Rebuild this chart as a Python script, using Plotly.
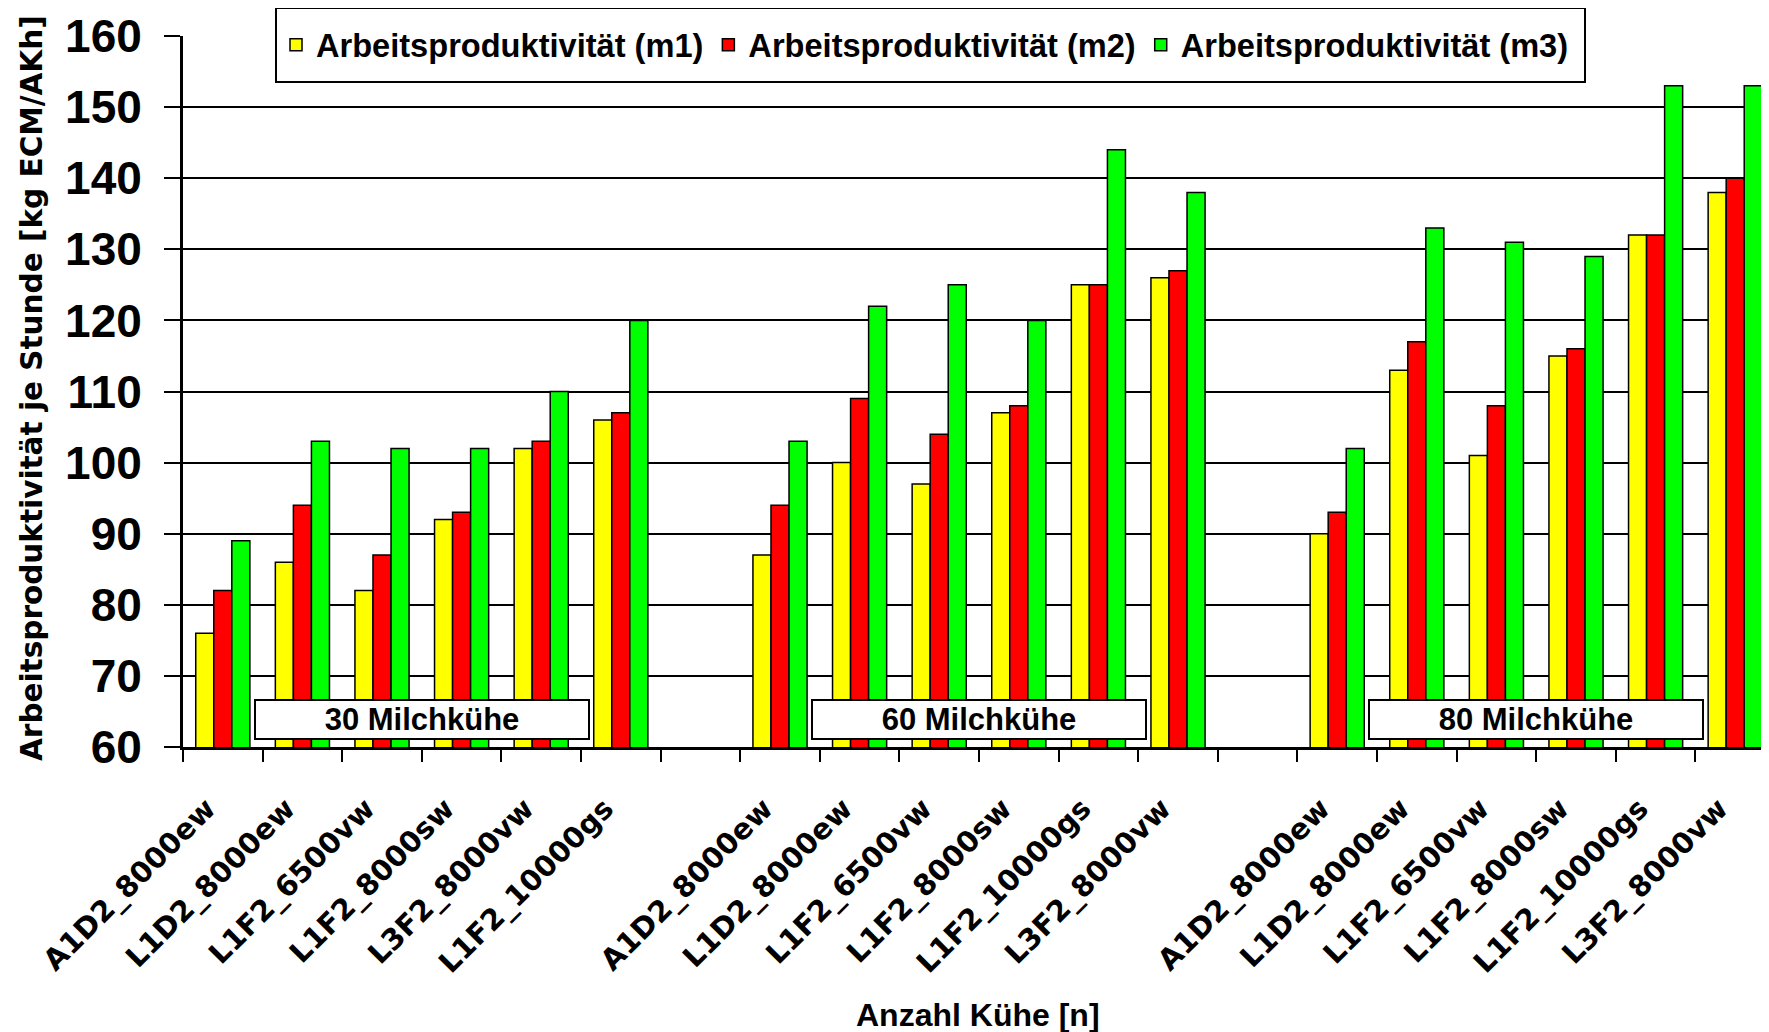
import plotly.graph_objects as go

# ---- data ----
herd_groups = ["30 Milchkühe", "60 Milchkühe", "80 Milchkühe"]
systems = ["A1D2_8000ew", "L1D2_8000ew", "L1F2_6500vw", "L1F2_8000sw", "L3F2_8000vw", "L1F2_10000gs"]
systems_60 = ["A1D2_8000ew", "L1D2_8000ew", "L1F2_6500vw", "L1F2_8000sw", "L1F2_10000gs", "L3F2_8000vw"]
systems_80 = ["A1D2_8000ew", "L1D2_8000ew", "L1F2_6500vw", "L1F2_8000sw", "L1F2_10000gs", "L3F2_8000vw"]

m1_30 = [76, 86, 82, 92, 102, 106]
m2_30 = [82, 94, 87, 93, 103, 107]
m3_30 = [89, 103, 102, 102, 110, 120]

m1_60 = [87, 100, 97, 107, 125, 126]
m2_60 = [94, 109, 104, 108, 125, 127]
m3_60 = [103, 122, 125, 120, 144, 138]

m1_80 = [90, 113, 101, 115, 132, 138]
m2_80 = [93, 117, 108, 116, 132, 140]
m3_80 = [102, 133, 131, 129, 153, 153]

series_names = ["Arbeitsproduktivität (m1)", "Arbeitsproduktivität (m2)", "Arbeitsproduktivität (m3)"]
colors = ["#FFFF00", "#FF0000", "#00FF00"]

y_ticks = [60, 70, 80, 90, 100, 110, 120, 130, 140, 150, 160]

# ---- layout helpers (category slots: 6 per group + 1 empty slot between groups) ----
group_labels = [systems, systems_60, systems_80]
series_by_group = [
    [m1_30, m1_60, m1_80],
    [m2_30, m2_60, m2_80],
    [m3_30, m3_60, m3_80],
]
slot = 7
xpos, xlabels = [], []
for g, labs in enumerate(group_labels):
    for i, lab in enumerate(labs):
        xpos.append(g * slot + i)
        xlabels.append(lab)
n_slots = slot * 2 + 6

fig = go.Figure()
for s, name in enumerate(series_names):
    vals = []
    for g in range(3):
        vals.extend(series_by_group[s][g])
    fig.add_trace(go.Bar(
        x=xpos, y=vals, name=name,
        marker=dict(color=colors[s], line=dict(color="black", width=1.5)),
    ))

# page has an 8px body margin: figure coordinates = page coordinates - 8
W, H = 1761, 1024
L, R, T, B = 175, 0, 28, 285
plot_w = W - L - R
plot_h = H - T - B
slot_px = 79.6
x_max = -0.5 + plot_w / slot_px

def px_x(page_x):
    return (page_x - 8 - L) / plot_w

def px_y(page_y):
    return (H - B - (page_y - 8)) / plot_h

font_ax = "Liberation Sans, Arial, sans-serif"
font_wide = "DejaVu Sans, sans-serif"

fig.update_layout(
    width=W, height=H,
    margin=dict(l=L, r=R, t=T, b=B, autoexpand=False),
    paper_bgcolor="white", plot_bgcolor="white",
    barmode="group", bargap=0.32, bargroupgap=0,
    showlegend=True,
    legend=dict(
        orientation="h", x=px_x(276), y=px_y(45),
        xanchor="left", yanchor="middle",
        bgcolor="rgba(0,0,0,0)", borderwidth=0,
        font=dict(family=font_ax, size=32.6, color="black", weight="bold"),
        itemclick=False,
    ),
    shapes=[dict(
        type="rect", xref="paper", yref="paper",
        x0=px_x(276), x1=px_x(1585), y0=px_y(82), y1=px_y(8),
        line=dict(color="black", width=2), fillcolor="white", layer="above",
    )],
)

fig.update_yaxes(
    range=[60, 160], tickmode="array", tickvals=y_ticks,
    showgrid=True, gridcolor="black", gridwidth=2,
    showline=True, linecolor="black", linewidth=3,
    ticks="outside", ticklen=16, tickwidth=2, tickcolor="black",
    tickfont=dict(family=font_ax, size=46, color="black", weight="bold"),
    ticklabelstandoff=13, zeroline=False,
)

label_shift = -0.2
fig.update_xaxes(
    range=[-0.5, x_max], tickmode="array", tickvals=[v + label_shift for v in xpos], ticktext=xlabels,
    ticks="", tickangle=-45, showgrid=False, zeroline=False,
    showline=True, linecolor="black", linewidth=3,
    tickfont=dict(family=font_wide, size=29, color="black", weight="bold"),
    ticklabelstandoff=30,
    minor=dict(tickmode="array", tickvals=[k - 0.5 for k in range(n_slots + 1)],
               ticks="outside", ticklen=12, tickwidth=2, tickcolor="black", showgrid=False),
)

annotations = []
for g, txt in enumerate(herd_groups):
    annotations.append(dict(
        x=g * slot + 2.5, y=63.9, xref="x", yref="y", text=txt, showarrow=False,
        font=dict(family=font_ax, size=31, color="black", weight="bold"),
        bgcolor="white", bordercolor="black", borderwidth=2, borderpad=1,
        width=330, height=35, xanchor="center", yanchor="middle",
    ))
annotations.append(dict(
    x=px_x(978), y=px_y(1015), xref="paper", yref="paper",
    text="Anzahl Kühe [n]", showarrow=False, xanchor="center", yanchor="middle",
    font=dict(family=font_ax, size=32, color="black", weight="bold"),
))
annotations.append(dict(
    x=px_x(32), y=px_y(388), xref="paper", yref="paper",
    text="Arbeitsproduktivität je Stunde [kg ECM/AKh]", textangle=-90, showarrow=False,
    xanchor="center", yanchor="middle",
    font=dict(family=font_wide, size=29.5, color="black", weight="bold"),
))
fig.update_layout(annotations=annotations)

fig.write_html("out.html")
